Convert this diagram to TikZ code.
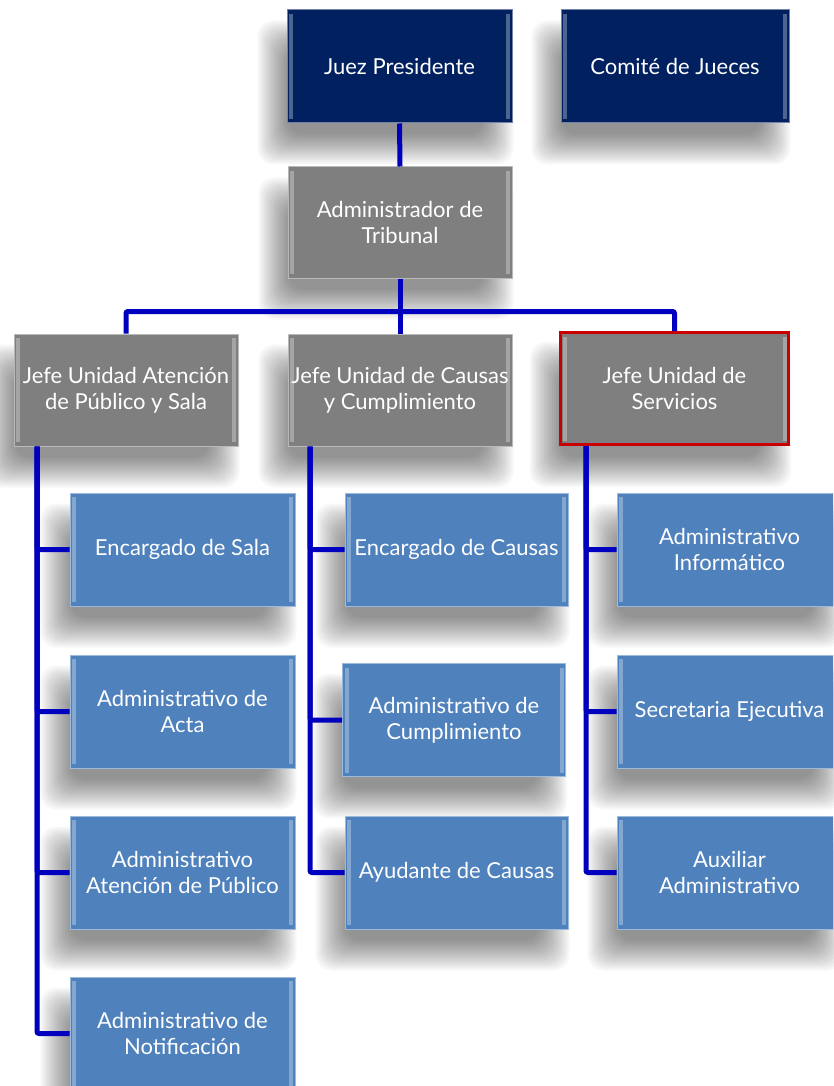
\documentclass[tikz,border=0pt]{standalone}
\usepackage{fontspec}
\setmainfont{Lato}
\definecolor{navy}{RGB}{0,32,96}
\definecolor{boxgray}{RGB}{127,127,127}
\definecolor{boxblue}{RGB}{79,129,189}
\definecolor{connc}{RGB}{0,0,190}
\definecolor{redb}{RGB}{200,0,0}
\pgfdeclarelayer{back}
\pgfdeclarelayer{shadowlayer}
\pgfsetlayers{back,shadowlayer,main}
\begin{document}
\begin{tikzpicture}[x=1pt,y=-1pt,
  box/.style={rectangle, minimum width=225pt, minimum height=113pt, inner sep=2pt,
    text=white, align=center, font=\fontsize{22}{26}\selectfont,
    line width=1pt,
    path picture={
      \fill[white,opacity=.3] ([xshift=2pt,yshift=-4pt]path picture bounding box.north west) rectangle ([xshift=6pt,yshift=4pt]path picture bounding box.south west);
      \fill[white,opacity=.3] ([xshift=-6pt,yshift=-4pt]path picture bounding box.north east) rectangle ([xshift=-2pt,yshift=4pt]path picture bounding box.south east);
    }},
  navybox/.style={box, fill=navy, draw=navy!55!white},
  graybox/.style={box, fill=boxgray, draw=boxgray!55!white},
  bluebox/.style={box, fill=boxblue, draw=boxblue!55!white},
  redbox/.style={box, fill=boxgray, draw=redb, line width=3pt},
  shadowpiece/.style={fill=black, opacity=.032, rounded corners=16pt},
  cn/.style={draw=connc, line width=5pt, rounded corners=2pt}]
\useasboundingbox (0,0) rectangle (833,1086);
\begin{pgfonlayer}{back}
\fill[white] (0,0) rectangle (833,1086);
\end{pgfonlayer}
\clip (0,0) rectangle (833,1086);
% top level
\node[navybox] (jp) at (399.5,66.5) {Juez Presidente};
\node[navybox, minimum width=228pt] (cj) at (675,66.5) {Comité de Jueces};
\node[graybox, minimum width=224pt, minimum height=111pt] (adm) at (400,222.5) {Administrador de\\Tribunal};
% unit heads
\node[graybox, minimum width=224pt, minimum height=112pt] (ja) at (126,390) {Jefe Unidad Atención\\de Público y Sala};
\node[graybox, minimum width=224pt, minimum height=112pt] (jc) at (400,390) {Jefe Unidad de Causas\\y Cumplimiento};
\node[redbox, minimum width=228pt, minimum height=112pt] (js) at (674.5,388.5) {Jefe Unidad de\\Servicios};
% row 1
\node[bluebox] (a1) at (182.5,549.5) {Encargado de Sala};
\node[bluebox, minimum width=223pt] (b1) at (456.5,549.5) {Encargado de Causas};
\node[bluebox] (c1) at (729.5,549.5) {Administrativo\\Informático};
% row 2
\node[bluebox] (a2) at (182.5,711.5) {Administrativo de\\Acta};
\node[bluebox, minimum width=223pt] (b2) at (454,720) {Administrativo de\\Cumplimiento};
\node[bluebox] (c2) at (729.5,711.5) {Secretaria Ejecutiva};
% row 3
\node[bluebox] (a3) at (182.5,872.5) {Administrativo\\Atención de Público};
\node[bluebox, minimum width=223pt] (b3) at (456.5,872.5) {Ayudante de Causas};
\node[bluebox] (c3) at (729.5,872.5) {Auxiliar\\Administrativo};
% row 4
\node[bluebox] (a4) at (182.5,1033.5) {Administrativo de\\Notificación};
% soft shadows
\begin{pgfonlayer}{shadowlayer}
\foreach \n in {jp,cj,adm,ja,jc,js,a1,b1,c1,a2,b2,c2,a3,b3,c3,a4}
  \foreach \d in {-15,-13,...,15}
    \fill[shadowpiece] ([xshift={-14pt+(\d)*1pt}, yshift={-26pt+(\d)*1pt}]\n.south west)
      rectangle ([xshift={-14pt-(\d)*1pt}, yshift={-26pt-(\d)*1pt}]\n.north east);
\end{pgfonlayer}
% connectors
\draw[cn] (jp.south) -- (adm.north);
\draw[cn] (adm.south) -- ++(0,33) coordinate (hb);
\draw[cn] (ja.north) |- (hb) -| (js.north);
\draw[cn] (hb) -- (jc.north);
\draw[cn] ([xshift=-89pt]ja.south) coordinate (t1) |- (a4.west);
\foreach \n in {a1,a2,a3} \draw[cn] (t1) |- (\n.west);
\draw[cn] ([xshift=-90pt]jc.south) coordinate (t2) |- (b3.west);
\foreach \n in {b1,b2} \draw[cn] (t2) |- (\n.west);
\draw[cn] ([xshift=-88.5pt]js.south) coordinate (t3) |- (c3.west);
\foreach \n in {c1,c2} \draw[cn] (t3) |- (\n.west);
\end{tikzpicture}
\end{document}
